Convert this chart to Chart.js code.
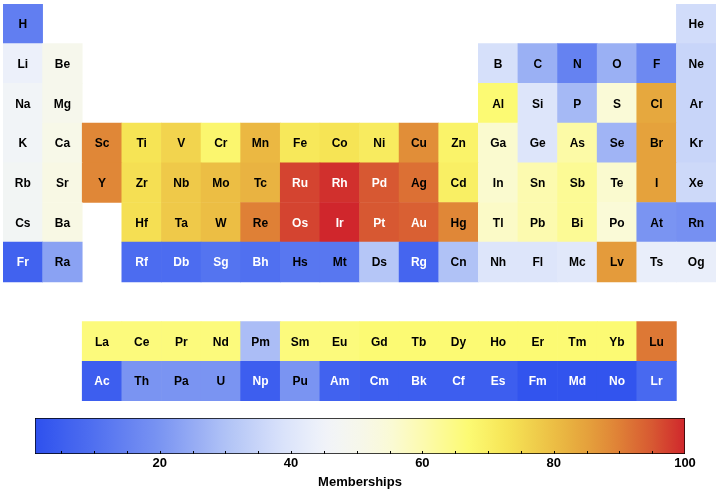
<!DOCTYPE html>
<html><head><meta charset="utf-8">
<script src="https://cdn.jsdelivr.net/npm/chart.js@4"></script>
<style>
html,body{margin:0;padding:0;background:#fff;}
#wrap{position:relative;width:720px;height:492px;overflow:hidden;}
#table{position:absolute;left:0;top:0;}
#cbar{position:absolute;left:0;top:405px;}
</style></head><body>
<div id="wrap">
<canvas id="table" width="720" height="405" style="width:720px;height:405px"></canvas>
<canvas id="cbar" width="720" height="87" style="width:720px;height:87px"></canvas>
</div>
<script>
// ---- data ----
const symbols = [
 "H","He",
 "Li","Be","B","C","N","O","F","Ne",
 "Na","Mg","Al","Si","P","S","Cl","Ar",
 "K","Ca","Sc","Ti","V","Cr","Mn","Fe","Co","Ni","Cu","Zn","Ga","Ge","As","Se","Br","Kr",
 "Rb","Sr","Y","Zr","Nb","Mo","Tc","Ru","Rh","Pd","Ag","Cd","In","Sn","Sb","Te","I","Xe",
 "Cs","Ba","Hf","Ta","W","Re","Os","Ir","Pt","Au","Hg","Tl","Pb","Bi","Po","At","Rn",
 "Fr","Ra","Rf","Db","Sg","Bh","Hs","Mt","Ds","Rg","Cn","Nh","Fl","Mc","Lv","Ts","Og",
 "La","Ce","Pr","Nd","Pm","Sm","Eu","Gd","Tb","Dy","Ho","Er","Tm","Yb","Lu",
 "Ac","Th","Pa","U","Np","Pu","Am","Cm","Bk","Cf","Es","Fm","Md","No","Lr"
];
const groups = [
 1,18,
 1,2,13,14,15,16,17,18,
 1,2,13,14,15,16,17,18,
 1,2,3,4,5,6,7,8,9,10,11,12,13,14,15,16,17,18,
 1,2,3,4,5,6,7,8,9,10,11,12,13,14,15,16,17,18,
 1,2,4,5,6,7,8,9,10,11,12,13,14,15,16,17,18,
 1,2,4,5,6,7,8,9,10,11,12,13,14,15,16,17,18,
 3,4,5,6,7,8,9,10,11,12,13,14,15,16,17,
 3,4,5,6,7,8,9,10,11,12,13,14,15,16,17
];
const tableRows = [
 1,1,
 2,2,2,2,2,2,2,2,
 3,3,3,3,3,3,3,3,
 4,4,4,4,4,4,4,4,4,4,4,4,4,4,4,4,4,4,
 5,5,5,5,5,5,5,5,5,5,5,5,5,5,5,5,5,5,
 6,6,6,6,6,6,6,6,6,6,6,6,6,6,6,6,6,
 7,7,7,7,7,7,7,7,7,7,7,7,7,7,7,7,7,
 9,9,9,9,9,9,9,9,9,9,9,9,9,9,9,
 10,10,10,10,10,10,10,10,10,10,10,10,10,10,10
];
const memberships = [
 14,37,
 44,50,38,26,15,26,17,35,
 46,50,67,40,28,55,84,35,
 46,51,89,73,76,68,81,72,73,71,88,69,56,40,61,27,85,35,
 47,52,89,74,78,80,82,97,99,95,92,70,56,60,63,56,85,36,
 47,52,74,78,80,90,97,100,95,94,89,57,60,63,55,20,19,
 6,23,9,9,11,10,12,12,31,7,30,40,40,41,86,43,43,
 66,66,66,66,29,66,66,67,67,67,67,67,67,67,91,
 5,20,20,20,5,20,6,5,5,5,5,2,2,2,8
];
const colorbarRange = [1, 100];
const colorbarTicks = [20, 40, 60, 80, 100];
const colorbarTitle = "Memberships";

// ---- colour map (blue - white - yellow - red) ----
const cmapStops = [
 [1,[46,80,238]],[10,[80,112,240]],[20,[122,148,242]],[30,[176,194,246]],
 [38,[214,224,250]],[45,[240,243,250]],[50,[246,247,236]],[55,[250,250,215]],
 [60,[252,250,175]],[67,[252,250,115]],[73,[246,228,85]],[80,[236,190,68]],
 [85,[229,162,60]],[90,[223,128,54]],[95,[215,88,50]],[100,[208,38,44]]
];
function tempColor(v){
  if (v <= cmapStops[0][0]) return 'rgb('+cmapStops[0][1].join(',')+')';
  for (let i=1;i<cmapStops.length;i++){
    const [v1,c1] = cmapStops[i];
    if (v <= v1){
      const [v0,c0] = cmapStops[i-1];
      const t = (v - v0)/(v1 - v0);
      const c = c0.map((a,k)=>Math.round(a + (c1[k]-a)*t));
      return 'rgb('+c.join(',')+')';
    }
  }
  return 'rgb('+cmapStops[cmapStops.length-1][1].join(',')+')';
}
const FONT = '"Liberation Sans", Arial, Helvetica, sans-serif';

const labelPlugin = {
  id:'cellLabels',
  afterDatasetsDraw(chart){
    const ctx = chart.ctx, meta = chart.getDatasetMeta(0);
    ctx.save();
    ctx.font = 'bold 12px ' + FONT;
    ctx.textAlign = 'center';
    ctx.textBaseline = 'middle';
    meta.data.forEach((el,i)=>{
      const v = memberships[i];
      ctx.fillStyle = (v < 11.5 || v > 93.5) ? '#ffffff' : '#000000';
      ctx.fillText(symbols[i], el.x, (el.y + el.base)/2 + 1);
    });
    ctx.restore();
  }
};

new Chart(document.getElementById('table'), {
  type:'bar',
  data:{
    datasets:[{
      data: symbols.map((s,i)=>({x: groups[i]-0.5, y:[tableRows[i]-1, tableRows[i]]})),
      backgroundColor: ctx => tempColor(memberships[ctx.dataIndex]),
      borderWidth:0,
      barPercentage:1,
      categoryPercentage:1
    }]
  },
  options:{
    responsive:false, animation:false,
    layout:{padding:{left:3,right:4,top:4,bottom:4}},
    plugins:{legend:{display:false}, tooltip:{enabled:false}},
    scales:{
      x:{type:'linear', min:0, max:18, display:false, offset:false},
      y:{type:'linear', min:0, max:10, reverse:true, display:false}
    }
  },
  plugins:[labelPlugin]
});

const minorTicks = {
  id:'minorTicks',
  afterDatasetsDraw(chart){
    const ctx = chart.ctx, xs = chart.scales.x;
    const el = chart.getDatasetMeta(0).data[0];
    const bottom = el.y + el.height/2;
    ctx.save();
    ctx.strokeStyle = '#000'; ctx.lineWidth = 1;
    for (let v = 5; v < colorbarRange[1]; v += 5){
      const px = Math.round(xs.getPixelForValue(v)) + 0.5;
      ctx.beginPath(); ctx.moveTo(px, bottom); ctx.lineTo(px, bottom - 3); ctx.stroke();
    }
    ctx.restore();
  }
};

new Chart(document.getElementById('cbar'), {
  type:'bar',
  data:{
    labels:[colorbarTitle],
    datasets:[{
      data:[colorbarRange],
      backgroundColor: ctx => {
        const c = ctx.chart;
        if (!c.chartArea) return null;
        const xs = c.scales.x;
        const g = c.ctx.createLinearGradient(xs.getPixelForValue(colorbarRange[0]),0,xs.getPixelForValue(colorbarRange[1]),0);
        const n = 60;
        for (let k=0;k<=n;k++){
          g.addColorStop(k/n, tempColor(colorbarRange[0] + (colorbarRange[1]-colorbarRange[0])*k/n));
        }
        return g;
      },
      borderColor:'#000', borderWidth:1, borderSkipped:false,
      barPercentage:1, categoryPercentage:1
    }]
  },
  options:{
    indexAxis:'y', responsive:false, animation:false,
    layout:{padding:{left:35,right:35,top:13,bottom:2}},
    plugins:{legend:{display:false}, tooltip:{enabled:false}},
    scales:{
      y:{display:false},
      x:{
        type:'linear', min:colorbarRange[0], max:colorbarRange[1],
        afterBuildTicks: s => { s.ticks = colorbarTicks.map(v=>({value:v})); },
        grid:{display:false, drawTicks:false},
        border:{display:false},
        ticks:{font:{family:FONT, size:13, weight:'bold'}, color:'#000', padding:2, maxRotation:0, autoSkip:false},
        title:{display:true, text:colorbarTitle, color:'#000', font:{family:FONT, size:13, weight:'bold'}, padding:{top:8,bottom:0}}
      }
    }
  },
  plugins:[minorTicks]
});
</script>
</body></html>
